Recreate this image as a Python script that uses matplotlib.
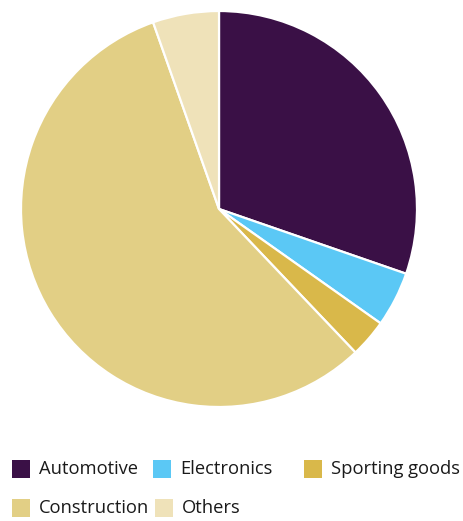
import matplotlib
matplotlib.use("Agg")
import matplotlib.pyplot as plt
from matplotlib.patches import Rectangle

categories = ["Automotive", "Electronics", "Sporting goods", "Construction", "Others"]
values = [30.3, 4.5, 3.1, 56.7, 5.4]
colors = ["#3A1046", "#5BC8F5", "#D9B84A", "#E2CF85", "#EFE2B9"]

W, H = 463, 521
fig = plt.figure(figsize=(W / 100, H / 100), dpi=100)
ax = fig.add_axes([21 / W, 1 - 407 / H, 396 / W, 396 / H])
ax.pie(values, colors=colors, startangle=90, counterclock=False, radius=1,
       wedgeprops=dict(edgecolor="white", linewidth=1.6))
ax.set_xlim(-1, 1)
ax.set_ylim(-1, 1)
ax.set_aspect("equal")
ax.axis("off")

# legend, flow layout (pixel positions: square left x, row center y)
legend_pos = [(12, 469), (153, 469), (304, 469), (12, 508), (155, 508)]
sq = 18
for (x, y), lab, c in zip(legend_pos, categories, colors):
    fig.add_artist(Rectangle((x / W, 1 - (y + sq / 2) / H), sq / W, sq / H,
                             transform=fig.transFigure, facecolor=c, edgecolor="none"))
    fig.text((x + sq + 9) / W, 1 - y / H, lab, fontsize=13.2, family="Open Sans",
             va="center", ha="left", color="#1a1a1a")

fig.savefig("out.png", dpi=100)
